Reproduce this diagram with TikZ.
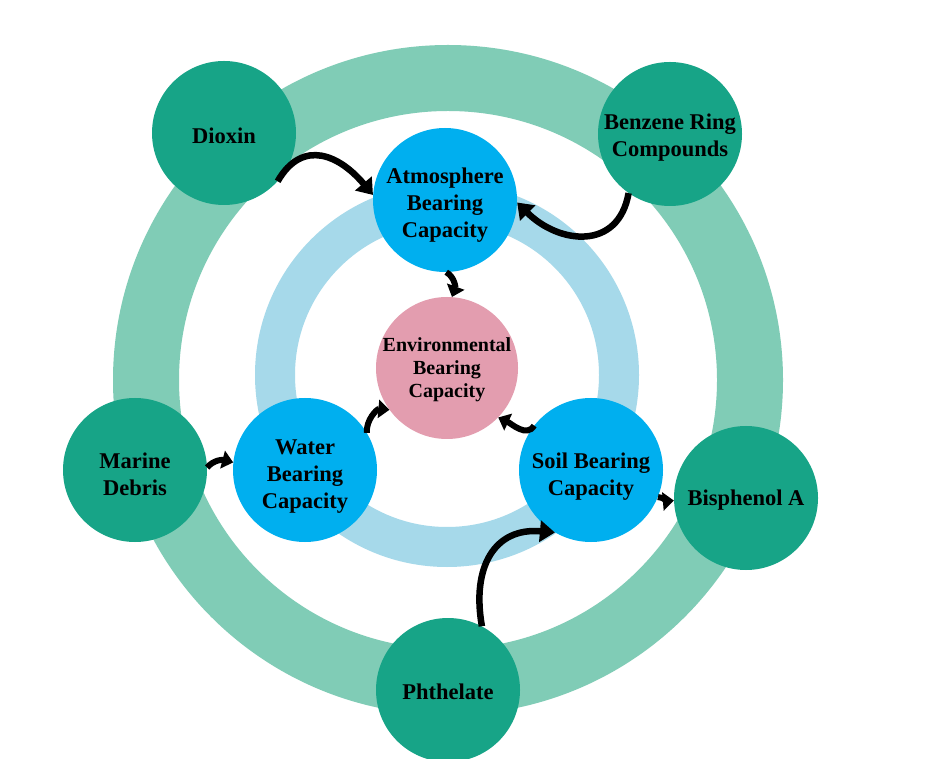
\documentclass[tikz,border=0pt]{standalone}
\usepackage{fontspec}
\setmainfont{Liberation Serif}
\usetikzlibrary{arrows.meta}
\definecolor{ringgreen}{HTML}{80CCB6}
\definecolor{darkgreen}{HTML}{17A487}
\definecolor{ringblue}{HTML}{A6D9EA}
\definecolor{capblue}{HTML}{00AFEF}
\definecolor{envpink}{HTML}{E39DAF}
\tikzset{
  x=1pt, y=1pt,
  bigtext/.style={align=center, font=\bfseries\fontsize{22.5}{27}\selectfont},
  outernode/.style={circle, fill=darkgreen, minimum size=144pt, inner sep=0pt},
  capnode/.style={circle, fill=capblue, minimum size=144pt, inner sep=0pt},
  envnode/.style={circle, fill=envpink, minimum size=142pt, inner sep=0pt},
  bigarrow/.style={line width=6.5pt, -{Triangle[width=21pt,length=15pt]}},
  smallarrow/.style={line width=6pt, -{Triangle[width=18pt,length=11pt]}},
}
\begin{document}
\begin{tikzpicture}
\useasboundingbox (0,0) rectangle (952,758);
\fill[white] (0,0) rectangle (952,758);
% rings
\draw[ringgreen, line width=66pt] (448,378) circle (302);
\draw[ringblue, line width=40pt] (447,383) circle (172);
% nodes
\node[capnode, label={[bigtext, yshift=-5pt]center:Atmosphere\\Bearing\\Capacity}] (atmo) at (445,558) {};
\node[capnode, label={[bigtext, yshift=-7pt]center:Water\\Bearing\\Capacity}] (water) at (305,288) {};
\node[capnode, label={[bigtext, yshift=-7pt]center:Soil Bearing\\Capacity}] (soil) at (591,288) {};
\node[envnode, label={[align=center, font=\bfseries\fontsize{20}{23}\selectfont, yshift=-2pt]center:Environmental\\Bearing\\Capacity}] (env) at (447,390) {};
\node[outernode, label={[bigtext, yshift=-3pt]center:Dioxin}] (dioxin) at (224,625) {};
\node[outernode, label={[bigtext, yshift=-4pt]center:Benzene Ring\\Compounds}] (benzene) at (670,624) {};
\node[outernode, label={[bigtext, yshift=-4pt]center:Marine\\Debris}] (marine) at (135,288) {};
\node[outernode, label={[bigtext, yshift=-2pt]center:Bisphenol A}] (bis) at (746,260) {};
\node[outernode, label={[bigtext, yshift=-2pt]center:Phthelate}] (phth) at (448,68) {};
% big arrows
\draw[bigarrow] (dioxin.-42) to[out=60, in=130, looseness=1.35] (atmo.176);
\draw[bigarrow] (benzene.235) to[out=-100, in=-45, looseness=1.35] (atmo.-2);
\draw[bigarrow] (phth.62) to[out=100, in=175, looseness=1.3] (soil.240);
% small arrows
\draw[smallarrow] (atmo.-89) to[out=-30, in=70] (env.86);
\draw[smallarrow] (water.31) to[out=95, in=175] (env.216);
\draw[smallarrow] (soil.142) to[out=-120, in=-25] (env.-44);
\draw[smallarrow] (marine.2) to[out=50, in=165] (water.174);
\draw[smallarrow] (soil.-22) to[out=-5, in=185] (bis.182);
\end{tikzpicture}
\end{document}
